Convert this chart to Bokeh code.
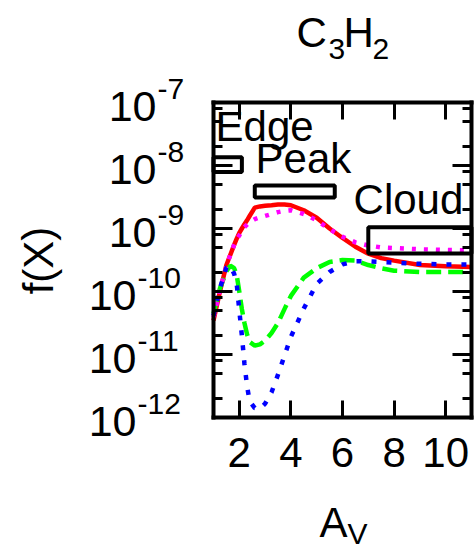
from bokeh.plotting import figure
from bokeh.models import Range1d, FixedTicker, LinearAxis, LogAxis, Label, CustomJSTickFormatter
from bokeh.embed import file_html
from bokeh.resources import INLINE

# Visual extinction grid (A_V) shared by the four model curves
av = [1.0, 1.25, 1.5, 1.65, 1.8, 1.9, 2.0, 2.1, 2.2, 2.3, 2.4, 2.6, 2.8, 3.0, 3.25,
      3.5, 3.75, 4.0, 4.5, 5.0, 5.5, 6.0, 6.5, 7.0, 7.5, 8.0, 9.0, 10.0, 11.0]

# Fractional abundance f(C3H2) for each model
f_red = [3.47e-11, 1.0e-10, 2.63e-10, 3.80e-10, 5.50e-10, 6.92e-10, 8.51e-10, 1.0e-9,
         1.17e-9, 1.35e-9, 1.58e-9, 2.14e-9, 2.24e-9, 2.29e-9, 2.34e-9, 2.40e-9, 2.40e-9,
         2.34e-9, 1.95e-9, 1.48e-9, 1.0e-9, 7.08e-10, 5.13e-10, 3.98e-10, 3.39e-10,
         3.09e-10, 2.63e-10, 2.51e-10, 2.45e-10]
f_magenta = [3.89e-11, 1.05e-10, 2.51e-10, 3.80e-10, 5.50e-10, 6.76e-10, 7.76e-10, 9.12e-10,
             1.05e-9, 1.15e-9, 1.26e-9, 1.41e-9, 1.51e-9, 1.58e-9, 1.70e-9, 1.82e-9, 1.91e-9,
             1.95e-9, 1.70e-9, 1.35e-9, 9.77e-10, 7.41e-10, 6.03e-10, 5.37e-10, 5.01e-10,
             4.90e-10, 4.68e-10, 4.57e-10, 4.47e-10]
f_green = [4.47e-11, 1.12e-10, 2.09e-10, 2.57e-10, 2.34e-10, 1.82e-10, 1.0e-10, 5.25e-11,
           3.16e-11, 2.09e-11, 1.58e-11, 1.38e-11, 1.45e-11, 1.66e-11, 2.19e-11, 3.16e-11,
           5.25e-11, 8.51e-11, 1.66e-10, 2.34e-10, 2.95e-10, 3.16e-10, 3.09e-10, 2.63e-10,
           2.34e-10, 2.14e-10, 2.04e-10, 2.04e-10, 2.04e-10]
f_blue = [4.17e-11, 1.12e-10, 2.40e-10, 2.57e-10, 1.91e-10, 1.32e-10, 5.01e-11, 2.0e-11,
          7.08e-12, 3.16e-12, 1.82e-12, 1.41e-12, 1.38e-12, 1.66e-12, 2.51e-12, 4.79e-12,
          9.55e-12, 1.91e-11, 5.37e-11, 1.32e-10, 2.04e-10, 2.69e-10, 3.02e-10, 3.02e-10,
          2.95e-10, 2.88e-10, 2.75e-10, 2.69e-10, 2.69e-10]

# Observed ranges (A_V and abundance) for the three regions
regions = ["Edge", "Peak", "Cloud"]
region_av_lo = [1.0, 2.6, 7.0]
region_av_hi = [2.1, 5.7, 11.0]
region_f_lo = [7.9e-9, 3.1e-9, 4.0e-10]
region_f_hi = [1.35e-8, 4.8e-9, 1.05e-9]
# Where each region name is written (A_V, f)
region_label_av = [1.08, 2.63, 6.43]
region_label_f = [2.5e-8, 7.8e-9, 1.73e-9]

x_ticks = [2, 4, 6, 8, 10]
y_exponents = [-12, -11, -10, -9, -8, -7]
minor_mantissas = [2, 5, 8]

# Plot box: data limits and where the box sits on the 475x550 canvas
X_MIN, X_MAX = 1.0, 11.0
E_MIN, E_MAX = y_exponents[0], y_exponents[-1]
W, H = 475, 550
BOX_L, BOX_R, BOX_T, BOX_B = 213, 471, 102, 417

px_per_x = (BOX_R - BOX_L) / (X_MAX - X_MIN)
px_per_dec = (BOX_B - BOX_T) / (E_MAX - E_MIN)
x_lo = X_MIN - BOX_L / px_per_x
x_hi = X_MAX + (W - BOX_R) / px_per_x
y_lo = 10.0 ** (E_MIN - (H - BOX_B) / px_per_dec)
y_hi = 10.0 ** (E_MAX + BOX_T / px_per_dec)

FONT = "Liberation Sans"
BASE_FIX = 0.34  # lift of the alphabetic baseline, as a fraction of the font size

p = figure(width=W, height=H, x_range=Range1d(x_lo, x_hi), y_range=Range1d(y_lo, y_hi),
           y_axis_type="log", output_backend="svg", toolbar_location=None, title=None,
           min_border=0)
p.xgrid.visible = False
p.ygrid.visible = False
p.outline_line_color = None
p.background_fill_color = "white"
p.border_fill_color = "white"

blank = CustomJSTickFormatter(code="return ''")
y_major = [10.0 ** e for e in y_exponents]
y_minor = [m * 10.0 ** e for e in y_exponents[:-1] for m in minor_mantissas]


def style_axis(ax, major_len, minor_len, bounds, where):
    ax.fixed_location = where
    ax.bounds = bounds
    ax.axis_line_color = "black"
    ax.axis_line_width = 4
    ax.axis_line_cap = "square"
    ax.major_tick_in = major_len
    ax.major_tick_out = 0
    ax.minor_tick_in = minor_len
    ax.minor_tick_out = 0
    ax.major_tick_line_width = 3
    ax.minor_tick_line_width = 3
    ax.major_tick_line_color = "black"
    ax.minor_tick_line_color = "black"


# bottom axis carries the A_V tick labels
xa = p.xaxis[0]
xa.ticker = FixedTicker(ticks=x_ticks)
style_axis(xa, 17, 0, (X_MIN, X_MAX), 10.0 ** E_MIN)
xa.major_label_text_font = FONT
xa.major_label_text_font_size = "42px"
xa.major_label_text_color = "black"
xa.major_label_standoff = 20

top = LinearAxis(ticker=FixedTicker(ticks=x_ticks), formatter=blank,
                 major_label_text_font_size="0px", major_label_standoff=0)
style_axis(top, 17, 0, (X_MIN, X_MAX), 10.0 ** E_MAX)
p.add_layout(top, "above")

ya = p.yaxis[0]
ya.ticker = FixedTicker(ticks=y_major, minor_ticks=y_minor)
ya.formatter = blank
ya.major_label_text_font_size = "0px"
ya.major_label_standoff = 0
style_axis(ya, 19, 9, (10.0 ** E_MIN, 10.0 ** E_MAX), X_MIN)

right = LogAxis(ticker=FixedTicker(ticks=y_major, minor_ticks=y_minor), formatter=blank,
                major_label_text_font_size="0px", major_label_standoff=0)
style_axis(right, 19, 9, (10.0 ** E_MIN, 10.0 ** E_MAX), X_MAX)
p.add_layout(right, "right")

# model curves
p.line(av, f_red, line_color="#ff0000", line_width=4.5)
p.line(av, f_green, line_color="#00ff00", line_width=4.5, line_dash="15 7")
p.line(av, f_magenta, line_color="#ff00ff", line_width=4.5, line_dash="4 8")
p.line(av, f_blue, line_color="#0000ff", line_width=4.5, line_dash="5 10")

# observed boxes
p.quad(left=region_av_lo, right=region_av_hi, bottom=region_f_lo, top=region_f_hi,
       fill_color=None, line_color="black", line_width=4)


def text_at(x, y, txt, size, dx=0.0, dy=0.0, align="left", baseline="alphabetic", angle=0.0):
    lift = BASE_FIX * size if baseline == "alphabetic" else 0.0
    p.add_layout(Label(x=x, y=y, x_offset=dx, y_offset=dy + lift, text=txt, angle=angle,
                       text_font=FONT, text_font_size=f"{size}px", text_align=align,
                       text_baseline=baseline, text_color="black"))


def canvas_text(px, py, txt, size, align="left", baseline="alphabetic", angle=0.0):
    # place a text by its canvas position, anchored to the top-left corner of the box
    text_at(X_MIN, 10.0 ** E_MAX, txt, size, dx=px - BOX_L, dy=BOX_T - py,
            align=align, baseline=baseline, angle=angle)


for name, lx, ly in zip(regions, region_label_av, region_label_f):
    text_at(lx, ly, name, 42)

# y tick labels: 10 with a raised exponent just after it
for e in y_exponents:
    exp_text = str(e)
    exp_left = 157 if len(exp_text) == 2 else 137
    text_at(X_MIN, 10.0 ** e, "10", 43, dx=exp_left - 1 - BOX_L, dy=-18.5, align="right")
    text_at(X_MIN, 10.0 ** e, exp_text, 30, dx=exp_left - BOX_L, dy=3.7, align="left")

# title C3H2
canvas_text(296, 46.7, "C", 42)
canvas_text(328, 58.3, "3", 30)
canvas_text(343, 46.7, "H", 42)
canvas_text(372, 58.3, "2", 30)

# axis titles
canvas_text(37.5, 260, "f(X)", 42, align="center", baseline="middle", angle=1.5708)
canvas_text(319, 536.7, "A", 42)
canvas_text(347, 543, "V", 30)

open("out.html", "w").write(file_html(p, INLINE))
